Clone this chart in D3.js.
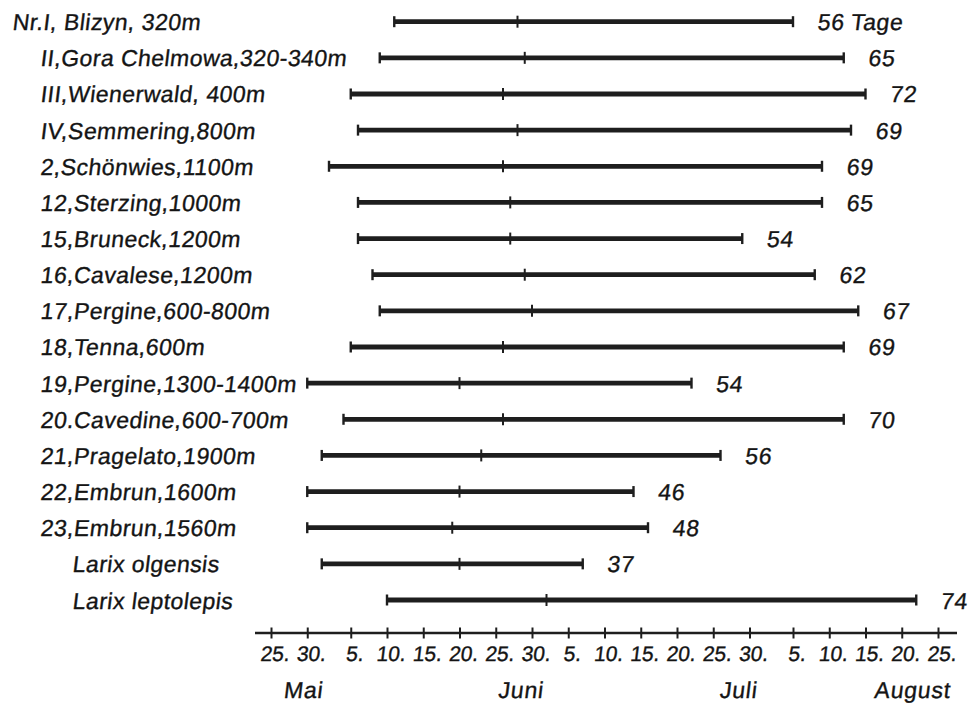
<!DOCTYPE html>
<html>
<head>
<meta charset="utf-8">
<script src="https://cdn.jsdelivr.net/npm/d3@7"></script>
<style>
  html, body { margin: 0; padding: 0; background: #fff; }
  svg { display: block; }
  text { font-family: "Liberation Sans", Arial, sans-serif; fill: #141414; stroke: #141414; stroke-width: 0.35px; }
</style>
</head>
<body>
<svg id="chart" width="970" height="704"></svg>
<script>
// ---------- data ----------
const categories = [
  "Nr.I, Blizyn, 320m",
  "II,Gora Chelmowa,320-340m",
  "III,Wienerwald, 400m",
  "IV,Semmering,800m",
  "2,Schönwies,1100m",
  "12,Sterzing,1000m",
  "15,Bruneck,1200m",
  "16,Cavalese,1200m",
  "17,Pergine,600-800m",
  "18,Tenna,600m",
  "19,Pergine,1300-1400m",
  "20.Cavedine,600-700m",
  "21,Pragelato,1900m",
  "22,Embrun,1600m",
  "23,Embrun,1560m",
  "Larix olgensis",
  "Larix leptolepis"
];
const startDates = ["06-11","06-09","06-05","06-06","06-02","06-06","06-06","06-08","06-09","06-05","05-30","06-04","06-01","05-30","05-30","06-01","06-10"];
const midDates   = ["06-28","06-29","06-26","06-28","06-26","06-27","06-27","06-29","06-30","06-26","06-20","06-26","06-23","06-20","06-19","06-20","07-02"];
const endDates   = ["08-05","08-12","08-15","08-13","08-09","08-09","07-29","08-08","08-14","08-12","07-22","08-12","07-26","07-14","07-16","07-07","08-22"];
const durations  = [56, 65, 72, 69, 69, 65, 54, 62, 67, 69, 54, 70, 56, 46, 48, 37, 74];
const firstUnit  = "Tage";

const tickDates  = ["05-25","05-30","06-05","06-10","06-15","06-20","06-25","06-30","07-05","07-10","07-15","07-20","07-25","07-30","08-05","08-10","08-15","08-20","08-25"];
const tickLabels = ["25.","30.","5.","10.","15.","20.","25.","30.","5.","10.","15.","20.","25.","30.","5.","10.","15.","20.","25."];
const monthNames   = ["Mai","Juni","Juli","August"];
const monthAnchors = ["05-29","06-28","07-28","08-21"];

// ---------- helpers ----------
const YEAR = 1950;
const parse = s => new Date(YEAR, +s.slice(0,2) - 1, +s.slice(3,5));
const SKEW = -7;
const ink = "#1e1e1e";

const svg = d3.select("#chart");

const x = d3.scaleTime()
  .domain([parse(tickDates[0]), parse(tickDates[tickDates.length - 1])])
  .range([271, 938]);

const y = d3.scalePoint()
  .domain(categories)
  .range([21.7, 600]);

function skewText(g, tx, ty, str, size, anchor, spacing) {
  return g.append("text")
    .attr("transform", `translate(${tx},${ty}) skewX(${SKEW})`)
    .attr("text-anchor", anchor || "start")
    .style("font-size", size + "px")
    .style("letter-spacing", (spacing || 0) + "px")
    .text(str);
}

// ---------- row labels ----------
const labelG = svg.append("g");
categories.forEach((c, i) => {
  let lx = 40;
  if (c.startsWith("Nr.")) lx = 12;
  else if (c.startsWith("Larix")) lx = 72;
  skewText(labelG, lx, y(c) + 8.5, c, 23, "start", 0.45);
});

// ---------- bars ----------
const barG = svg.append("g");
categories.forEach((c, i) => {
  const yy = y(c);
  const x0 = x(parse(startDates[i]));
  const x1 = x(parse(endDates[i]));
  const xm = x(parse(midDates[i]));
  barG.append("line")
    .attr("x1", x0).attr("x2", x1).attr("y1", yy).attr("y2", yy)
    .attr("stroke", ink).attr("stroke-width", 4.8);
  [x0, x1].forEach(px => {
    barG.append("line")
      .attr("x1", px).attr("x2", px).attr("y1", yy - 5.5).attr("y2", yy + 5.5)
      .attr("stroke", ink).attr("stroke-width", 2.4);
  });
  barG.append("line")
    .attr("x1", xm).attr("x2", xm).attr("y1", yy - 6).attr("y2", yy + 6)
    .attr("stroke", ink).attr("stroke-width", 2);
  const lbl = i === 0 ? durations[i] + " " + firstUnit : String(durations[i]);
  skewText(barG, x1 + 24, yy + 8.5, lbl, 23, "start", 0.6);
});

// ---------- axis ----------
const axisY = 633;
const axisG = svg.append("g").attr("transform", `translate(0,${axisY})`);
axisG.call(
  d3.axisBottom(x)
    .tickValues(tickDates.map(parse))
    .tickFormat((d, i) => tickLabels[i])
    .tickSize(0)
);
axisG.select(".domain").remove();
axisG.append("line")
  .attr("x1", x.range()[0] - 16).attr("x2", x.range()[1] + 19)
  .attr("y1", 0).attr("y2", 0)
  .attr("stroke", ink).attr("stroke-width", 2.5);
axisG.selectAll(".tick line")
  .attr("y1", -5.5).attr("y2", 5.5)
  .attr("stroke", ink).attr("stroke-width", 2);
axisG.selectAll(".tick text")
  .attr("y", null).attr("dy", null)
  .attr("transform", `translate(3,28) skewX(${SKEW})`)
  .attr("text-anchor", "middle")
  .style("font-size", "21px")
  .style("font-family", '"Liberation Sans", Arial, sans-serif')
  .attr("fill", "#141414");

// month labels
monthNames.forEach((m, i) => {
  skewText(svg, x(parse(monthAnchors[i])) + 3, 698, m, 23, "middle", 0.8);
});
</script>
</body>
</html>
